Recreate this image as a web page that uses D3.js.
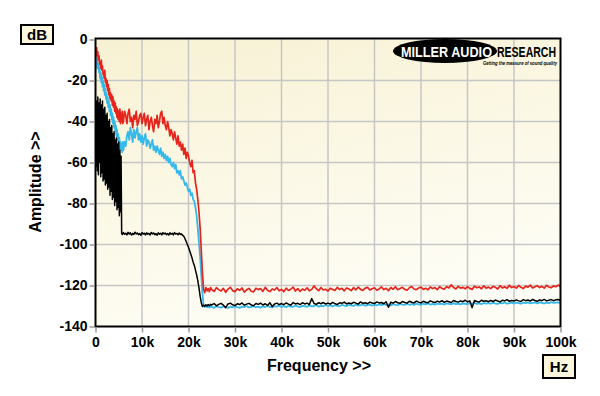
<!DOCTYPE html>
<html>
<head>
<meta charset="utf-8">
<script src="https://cdn.jsdelivr.net/npm/d3@7"></script>
<style>
  body { margin: 0; background: #fff; }
  svg { display: block; }
</style>
</head>
<body>
<div id="vis"></div>
<script>
// sample grid in kHz: very fine below 6k, fine to 25k, coarser above
var freqK = d3.range(0, 6, 0.125)
  .concat(d3.range(6, 25, 0.25))
  .concat(d3.range(25, 100.001, 0.5))

var yTicks = [0, -20, -40, -60, -80, -100, -120, -140]
var xTicks = [0, 10, 20, 30, 40, 50, 60, 70, 80, 90, 100]
var xTickLabels = ["0", "10k", "20k", "30k", "40k", "50k", "60k", "70k", "80k", "90k", "100k"]

// red trace (dB): 0..5.875k, 6..24.75k, 25..100k
var redStart = [
  -9, -5, -4, -8, -6, -10, -8, -12, -11, -14, -10, -15, -13, -17, -16, -19,
  -15, -21, -19, -23, -20, -25, -22, -27, -24, -29, -26, -30, -27, -32, -28, -33,
  -30, -35, -31, -36, -33, -38, -34, -39, -35, -40, -34, -41, -36, -40, -35, -41
]
var redMid = [
  -40, -35, -37, -41, -36, -34, -40, -38, -43, -37, -39, -35, -42, -40, -37, -36,
  -41, -38, -36, -42, -39, -37, -44, -40, -38, -42, -45, -39, -41, -37, -43, -40,
  -36, -35, -41, -38, -42, -44, -40, -43, -47, -44, -46, -49, -45, -48, -51, -47,
  -52, -50, -54, -51, -56, -53, -58, -55, -57, -60, -62, -59, -65, -64, -70, -73,
  -78, -84, -92, -103, -114, -122, -123.5, -121, -122.6, -121.5, -123, -121
]
var redHigh = [
  -122.0, -122.9, -121.1, -122.0, -122.7, -121.4, -123.3, -121.8, -120.9, -122.5,
  -123.0, -121.6, -122.4, -121.2, -123.2, -122.1, -121.4, -122.8, -123.1, -121.3,
  -122.0, -121.5, -122.9, -120.9, -122.3, -123.0, -121.7, -122.2, -121.0, -122.6,
  -121.9, -123.0, -121.3, -122.4, -121.8, -120.8, -122.7, -121.5, -122.9, -121.7,
  -122.3, -121.1, -122.6, -121.9, -120.2, -121.6, -122.5, -121.0, -122.2, -121.8,
  -122.7, -121.3, -121.9, -122.4, -120.9, -122.0, -121.4, -122.6, -121.2, -121.7,
  -122.5, -121.0, -122.1, -120.8, -121.9, -122.4, -121.3, -120.9, -122.2, -121.6,
  -121.1, -122.3, -121.7, -120.7, -122.0, -121.4, -122.5, -121.0, -121.8, -120.6,
  -122.1, -121.5, -120.9, -121.9, -122.3, -121.1, -120.5, -121.7, -122.0, -121.2,
  -120.8, -121.9, -121.3, -122.1, -120.7, -121.5, -121.0, -122.0, -120.6, -121.4,
  -121.8, -120.5, -121.2, -119.7, -121.0, -121.7, -120.4, -121.3, -120.9, -121.6,
  -120.6, -121.4, -121.9, -120.3, -121.1, -120.7, -121.6, -120.2, -121.3, -120.8,
  -121.5, -120.4, -120.9, -121.7, -120.1, -121.2, -120.6, -121.4, -119.9, -121.0,
  -120.5, -121.3, -120.0, -120.9, -121.5, -120.3, -120.8, -119.8, -121.2, -120.6,
  -120.1, -121.0, -120.4, -121.3, -119.9, -120.7, -121.1, -120.2, -120.6, -119.8,
  -120.5
]

// cyan trace
var cyanStart = [
  -15, -10, -12, -9, -14, -12, -16, -14, -19, -16, -21, -18, -23, -20, -25, -22,
  -27, -24, -29, -26, -31, -28, -33, -30, -35, -32, -37, -34, -39, -36, -41, -38,
  -43, -40, -45, -42, -47, -44, -49, -46, -51, -48, -53, -50, -54, -51, -55, -50
]
var cyanMid = [
  -54, -50, -52, -47, -45, -49, -43, -46, -50, -44, -48, -45, -43, -49, -46, -50,
  -47, -51, -48, -46, -52, -49, -50, -53, -51, -49, -54, -52, -55, -52, -54, -56,
  -53, -57, -55, -58, -56, -59, -57, -60, -58, -61, -62, -60, -63, -61, -65, -64,
  -66, -64, -68, -67, -69, -71, -70, -72, -74, -73, -76, -75, -78, -79, -82, -86,
  -92, -99, -106, -115, -124, -130, -130.5, -129.8, -130.6, -130, -130.8, -130.2
]
var cyanHigh = [
  -130.4, -130.9, -130.1, -130.6, -130.8, -130.2, -130.5, -131.0, -130.3, -130.7,
  -130.2, -130.6, -130.9, -130.3, -130.5, -130.0, -130.7, -130.4, -130.1, -130.6,
  -130.3, -130.8, -130.2, -130.5, -129.9, -130.4, -130.7, -130.1, -130.3, -129.8,
  -130.5, -130.1, -130.6, -129.9, -130.3, -130.4, -129.8, -130.2, -130.5, -129.9,
  -130.1, -130.4, -129.7, -130.2, -130.0, -129.6, -130.3, -129.9, -130.1, -129.5,
  -130.0, -129.7, -130.2, -129.6, -129.9, -130.1, -129.4, -129.8, -130.0, -129.5,
  -129.7, -130.0, -129.3, -129.8, -129.6, -129.2, -129.9, -129.5, -129.3, -129.8,
  -129.4, -129.7, -129.2, -129.6, -129.0, -129.5, -129.3, -129.7, -129.1, -129.4,
  -129.6, -129.0, -129.3, -129.5, -128.9, -129.4, -129.1, -129.5, -128.8, -129.2,
  -129.4, -128.9, -129.2, -128.7, -129.3, -129.0, -129.4, -128.8, -129.1, -128.9,
  -129.3, -128.7, -129.0, -129.2, -128.6, -129.1, -128.8, -129.2, -128.7, -128.9,
  -129.1, -128.6, -128.9, -128.5, -129.0, -128.7, -129.1, -128.5, -128.8, -128.6,
  -128.9, -128.4, -128.8, -129.0, -128.5, -128.7, -128.3, -128.9, -128.6, -128.4,
  -128.8, -128.3, -128.6, -128.9, -128.4, -128.6, -128.2, -128.7, -128.5, -128.3,
  -128.7, -128.2, -128.5, -128.8, -128.3, -128.6, -128.1, -128.5, -128.4, -128.2,
  -128.5
]

// black trace
var blackStart = [
  -40, -62, -30, -64, -28, -66, -31, -60, -29, -67, -32, -65, -30, -69, -34, -68,
  -33, -71, -37, -70, -36, -73, -40, -72, -39, -76, -43, -74, -42, -78, -46, -77,
  -45, -81, -49, -79, -48, -83, -51, -82, -50, -86, -54, -84, -57, -94.5, -95.2, -94.6
]
var blackMid = [
  -94.2, -95.0, -94.5, -95.3, -94.1, -94.9, -94.3, -95.4, -94.6, -95.1, -94.0, -94.8,
  -94.4, -95.2, -94.7, -95.5, -94.2, -94.9, -94.5, -95.3, -94.3, -95.0, -94.6, -95.4,
  -94.1, -94.8, -94.4, -95.2, -94.7, -95.5, -94.3, -95.0, -94.5, -95.3, -94.2, -94.9,
  -94.4, -95.2, -94.6, -95.4, -94.3, -95.0, -94.5, -95.3, -94.2, -94.9, -94.6, -95.2,
  -94.4, -95.1, -94.8, -95.6,
  -96.0, -97.2, -98.5, -100.0, -101.3, -103.0, -104.8, -106.5, -108.6, -110.2, -112.5, -114.8,
  -117.6, -121.0, -125.2, -128.4, -130.2, -129.6, -130.1, -129.4, -130.0, -129.3, -129.9, -129.2
]
var blackHigh = [
  -129.5, -128.8, -129.9, -129.2, -128.7, -129.6, -130.8, -129.0, -128.6, -129.4,
  -129.8, -128.9, -129.3, -128.5, -129.6, -129.1, -128.7, -129.5, -129.9, -128.8,
  -129.2, -128.6, -129.5, -128.9, -129.7, -128.4, -130.3, -129.0, -128.6, -129.3,
  -128.8, -129.4, -128.5, -129.1, -129.6, -128.3, -129.0, -128.7, -129.3, -128.4,
  -129.0, -128.6, -129.3, -126.4, -128.8, -129.2, -128.4, -128.9, -128.3, -129.0,
  -128.6, -129.1, -128.2, -128.8, -129.3, -128.4, -128.7, -128.1, -129.0, -128.5,
  -128.9, -128.2, -128.6, -129.1, -128.0, -128.7, -128.4, -128.9, -128.1, -128.5,
  -128.8, -128.0, -128.5, -128.3, -128.9, -127.9, -130.6, -128.2, -128.6, -127.8,
  -128.4, -128.7, -127.8, -128.3, -128.6, -127.7, -128.2, -128.5, -127.6, -128.1,
  -128.5, -127.7, -128.2, -128.4, -127.5, -128.0, -128.3, -127.6, -128.1, -127.4,
  -128.2, -127.6, -127.9, -128.3, -127.3, -127.8, -128.1, -127.5, -127.9, -127.2,
  -128.0, -127.5, -130.8, -127.3, -127.8, -128.1, -127.2, -127.7, -127.4, -127.9,
  -127.3, -127.8, -127.1, -127.6, -128.0, -127.2, -127.5, -126.9, -127.7, -127.3,
  -127.6, -127.0, -127.5, -127.8, -126.9, -127.4, -127.1, -127.6, -126.8, -127.3,
  -127.7, -127.0, -127.4, -126.8, -127.5, -127.2, -126.9, -127.4, -127.0, -126.8,
  -127.3
]

var series = [
  {name: "cyan", color: "#35b8ea", width: 1.8, db: cyanStart.concat(cyanMid, cyanHigh)},
  {name: "black", color: "#000000", width: 1.5, db: blackStart.concat(blackMid, blackHigh)},
  {name: "red", color: "#e6241b", width: 1.7, db: redStart.concat(redMid, redHigh)}
]

var width = 600, height = 396
var plot = {left: 95.5, right: 560.5, top: 39.5, bottom: 326.5}

var svg = d3.select("#vis")
  .append("svg")
  .attr("width", width)
  .attr("height", height)

var x = d3.scaleLinear().domain([0, 100]).range([plot.left, plot.right])
var y = d3.scaleLinear().domain([-140, 0]).range([plot.bottom, plot.top])

var defs = svg.append("defs")
var grad = defs.append("linearGradient")
  .attr("id", "bg")
  .attr("x1", 0).attr("y1", 0).attr("x2", 0.35).attr("y2", 1)
grad.append("stop").attr("offset", "0%").attr("stop-color", "#f7f1d3")
grad.append("stop").attr("offset", "55%").attr("stop-color", "#fbf8e6")
grad.append("stop").attr("offset", "100%").attr("stop-color", "#fefdf5")

defs.append("clipPath").attr("id", "clip")
  .append("rect")
  .attr("x", plot.left).attr("y", plot.top - 2)
  .attr("width", plot.right - plot.left).attr("height", plot.bottom - plot.top + 2)

// plot background
svg.append("rect")
  .attr("x", plot.left).attr("y", plot.top)
  .attr("width", plot.right - plot.left)
  .attr("height", plot.bottom - plot.top)
  .attr("fill", "url(#bg)")

// grid
var grid = svg.append("g").attr("stroke", "#c6c6c6").attr("stroke-width", 1.5)
grid.selectAll(".vx")
  .data(xTicks.slice(1, -1))
  .join("line")
  .attr("x1", d => x(d)).attr("x2", d => x(d))
  .attr("y1", plot.top).attr("y2", plot.bottom)
grid.selectAll(".hy")
  .data(yTicks.slice(1, -1))
  .join("line")
  .attr("x1", plot.left).attr("x2", plot.right)
  .attr("y1", d => y(d)).attr("y2", d => y(d))

// logo
var logo = svg.append("g")
logo.append("ellipse")
  .attr("cx", 445).attr("cy", 51).attr("rx", 52).attr("ry", 12)
  .attr("fill", "#000")
logo.append("text")
  .attr("x", 401).attr("y", 56.5)
  .attr("textLength", 91).attr("lengthAdjust", "spacingAndGlyphs")
  .attr("fill", "#fff")
  .style("font", "900 14px 'Liberation Sans', Arial, sans-serif")
  .text("MILLER AUDIO")
logo.append("text")
  .attr("x", 497).attr("y", 56.5)
  .attr("textLength", 59).attr("lengthAdjust", "spacingAndGlyphs")
  .attr("fill", "#000")
  .style("font", "900 14px 'Liberation Sans', Arial, sans-serif")
  .text("RESEARCH")
logo.append("text")
  .attr("x", 483).attr("y", 65)
  .attr("textLength", 74).attr("lengthAdjust", "spacingAndGlyphs")
  .attr("fill", "#000")
  .style("font", "italic 700 5px 'Liberation Sans', Arial, sans-serif")
  .text("Getting the measure of sound quality")

// traces
var line = d3.line()
  .x((d, i) => x(freqK[i]))
  .y(d => y(d))

svg.append("g")
  .attr("clip-path", "url(#clip)")
  .selectAll("path")
  .data(series)
  .join("path")
  .attr("fill", "none")
  .attr("stroke", d => d.color)
  .attr("stroke-width", d => d.width)
  .attr("stroke-linejoin", "round")
  .attr("d", d => line(d.db))

// border
svg.append("rect")
  .attr("x", plot.left).attr("y", plot.top - 1)
  .attr("width", plot.right - plot.left)
  .attr("height", plot.bottom - plot.top + 1)
  .attr("fill", "none")
  .attr("stroke", "#000")
  .attr("stroke-width", 2)

var labelFont = "700 14px 'Liberation Sans', Arial, sans-serif"

// y axis
var yAxis = svg.append("g")
  .attr("transform", "translate(" + (plot.left - 1) + ",0)")
  .call(d3.axisLeft(y).tickValues(yTicks).tickSize(5).tickPadding(2).tickFormat(d => d))
yAxis.select(".domain").remove()
yAxis.selectAll(".tick line").attr("stroke", "#9a9a9a").attr("stroke-width", 1.5)
yAxis.selectAll(".tick text").style("font", labelFont).attr("fill", "#000")

// x axis
var xAxis = svg.append("g")
  .attr("transform", "translate(0," + (plot.bottom + 1) + ")")
  .call(d3.axisBottom(x).tickValues(xTicks).tickSize(5).tickPadding(5)
    .tickFormat((d, i) => xTickLabels[i]))
xAxis.select(".domain").remove()
xAxis.selectAll(".tick line").attr("stroke", "#9a9a9a").attr("stroke-width", 1.5)
xAxis.selectAll(".tick text").style("font", labelFont).attr("fill", "#000")

// axis titles
svg.append("text")
  .attr("x", 319).attr("y", 371)
  .attr("text-anchor", "middle")
  .style("font", "700 16px 'Liberation Sans', Arial, sans-serif")
  .text("Frequency >>")

svg.append("text")
  .attr("transform", "translate(41,182) rotate(-90)")
  .attr("text-anchor", "middle")
  .style("font", "700 16px 'Liberation Sans', Arial, sans-serif")
  .text("Amplitude >>")

// unit boxes
function unitBox(bx, by, bw, bh, label) {
  var g = svg.append("g")
  g.append("rect")
    .attr("x", bx).attr("y", by).attr("width", bw).attr("height", bh)
    .attr("fill", "#fbf6dc").attr("stroke", "#000").attr("stroke-width", 2)
  g.append("text")
    .attr("x", bx + bw / 2).attr("y", by + bh / 2)
    .attr("dy", "0.36em")
    .attr("text-anchor", "middle")
    .style("font", "700 15px 'Liberation Sans', Arial, sans-serif")
    .text(label)
}
unitBox(21, 25, 32, 19, "dB")
unitBox(543, 355, 32, 23, "Hz")
</script>
</body>
</html>
